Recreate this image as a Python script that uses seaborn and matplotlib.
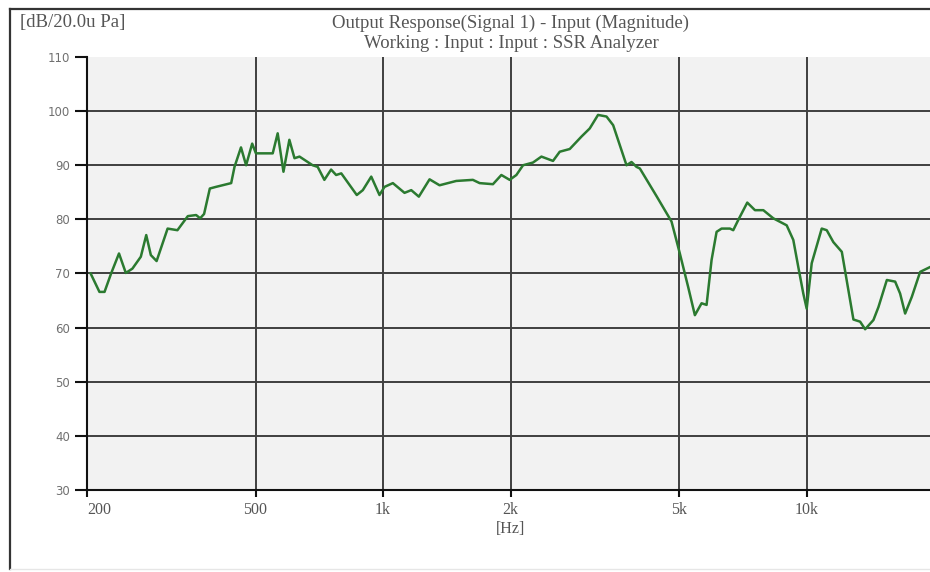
import matplotlib
matplotlib.use("Agg")
import matplotlib.pyplot as plt
from matplotlib.lines import Line2D
from matplotlib.ticker import NullLocator
import pandas as pd
import seaborn as sns

# values (frequency in Hz, level in dB re 20 uPa)
freq_hz = [204, 214, 220, 228, 238, 247, 256, 268, 276, 283, 292, 310, 327, 346,
           362, 370, 378, 390, 403, 438, 446, 462, 475, 491, 501, 549, 564, 582,
           601, 618, 635, 682, 701, 727, 754, 775, 797, 867, 896, 938, 981, 1008,
           1055, 1124, 1166, 1215, 1288, 1360, 1489, 1630, 1691, 1818, 1903, 1991,
           2065, 2141, 2260, 2366, 2520, 2614, 2760, 2942, 3077, 3219, 3371, 3495,
           3758, 3862, 3968, 4041, 4424, 4800, 5022, 5255, 5450, 5652, 5808, 5968,
           6133, 6302, 6595, 6714, 6901, 7246, 7556, 7907, 8346, 8978, 9307, 9563,
           9827, 10010, 10287, 10862, 11162, 11571, 12116, 12558, 12905, 13384,
           13753, 14388, 14786, 15477, 16192, 16634, 17096, 17730, 18548, 19588]
level_db = [70.0, 66.6, 66.6, 70.0, 73.7, 70.1, 70.9, 73.1, 77.1, 73.4, 72.3, 78.3,
            78.0, 80.6, 80.8, 80.2, 81.0, 85.7, 86.0, 86.7, 89.7, 93.3, 90.0, 94.0,
            92.2, 92.2, 95.9, 88.8, 94.7, 91.3, 91.6, 90.0, 89.7, 87.3, 89.2, 88.2,
            88.5, 84.5, 85.4, 87.9, 84.5, 86.0, 86.7, 84.9, 85.4, 84.2, 87.4, 86.3,
            87.1, 87.3, 86.7, 86.5, 88.2, 87.3, 88.2, 90.0, 90.5, 91.6, 90.8, 92.5,
            93.0, 95.3, 96.8, 99.3, 99.0, 97.4, 90.0, 90.6, 89.7, 89.4, 84.3, 79.6,
            73.7, 67.5, 62.3, 64.5, 64.2, 72.5, 77.7, 78.3, 78.3, 78.0, 79.9, 83.1,
            81.7, 81.7, 80.2, 78.9, 76.2, 71.2, 66.3, 63.5, 71.9, 78.3, 78.0, 75.8,
            74.0, 66.9, 61.5, 61.1, 59.7, 61.4, 63.8, 68.8, 68.5, 66.3, 62.6, 65.7,
            70.3, 71.2]

x_ticks = [200, 500, 1000, 2000, 5000, 10000]
x_tick_labels = ["200", "500", "1k", "2k", "5k", "10k"]
y_ticks = [30, 40, 50, 60, 70, 80, 90, 100, 110]

df = pd.DataFrame({"Frequency": freq_hz, "Level": level_db})

fig = plt.figure(figsize=(9.3, 5.72), dpi=100)
ax = fig.add_axes([87 / 930, 82 / 572, 847 / 930, 433 / 572])
ax.set_facecolor("#f2f2f2")

# grid drawn by hand so nothing lands on the top edge
for v in y_ticks[1:-1]:
    ax.axhline(v, color="#404040", linewidth=1.4, zorder=1)
for v in x_ticks[1:]:
    ax.axvline(v, color="#404040", linewidth=1.4, zorder=1)

sns.lineplot(data=df, x="Frequency", y="Level", ax=ax, color="#2b7a30",
             linewidth=1.8, sort=False, zorder=3)

ax.set_xscale("log")
ax.set_xlim(200, 20000)
ax.set_ylim(30, 110)
ax.set_xticks(x_ticks)
ax.set_xticklabels(x_tick_labels, family="Liberation Serif", fontsize=11.5, color="#555555")
ax.xaxis.set_minor_locator(NullLocator())
ax.set_yticks(y_ticks)
ax.set_yticklabels([str(v) for v in y_ticks], family="DejaVu Sans", fontsize=8.5, color="#707070")
ax.get_xticklabels()[0].set_horizontalalignment("left")
ax.set_xlabel("")
ax.set_ylabel("")

ax.tick_params(axis="y", length=9, width=1.5, pad=3, color="#111111")
ax.tick_params(axis="x", length=5, width=1.5, pad=4, color="#111111")
for side in ["top", "right"]:
    ax.spines[side].set_visible(False)
for side in ["left", "bottom"]:
    ax.spines[side].set_linewidth(1.5)
    ax.spines[side].set_color("#111111")

# outer frame of the analyzer window
fig.add_artist(Line2D([10 / 930, 10 / 930], [3 / 572, 563 / 572], color="#333333", linewidth=1.6))
fig.add_artist(Line2D([10 / 930, 1.0], [563 / 572, 563 / 572], color="#333333", linewidth=1.6))
fig.add_artist(Line2D([10 / 930, 1.0], [3 / 572, 3 / 572], color="#e6e6e6", linewidth=1.0))

serif = "Liberation Serif"
fig.text(20 / 930, 1 - 23 / 572, "[dB/20.0u Pa]", family=serif, fontsize=13.5,
         color="#555555", ha="left", va="center")
fig.text(510 / 930, 1 - 23 / 572, "Output Response(Signal 1) - Input (Magnitude)",
         family=serif, fontsize=13.5, color="#555555", ha="center", va="center")
fig.text(511 / 930, 1 - 44 / 572, "Working : Input : Input : SSR Analyzer",
         family=serif, fontsize=13.5, color="#555555", ha="center", va="center")
fig.text(511 / 930, 1 - 529 / 572, "[Hz]", family=serif, fontsize=11.5,
         color="#555555", ha="center", va="center")

fig.savefig("out.png", dpi=100)
